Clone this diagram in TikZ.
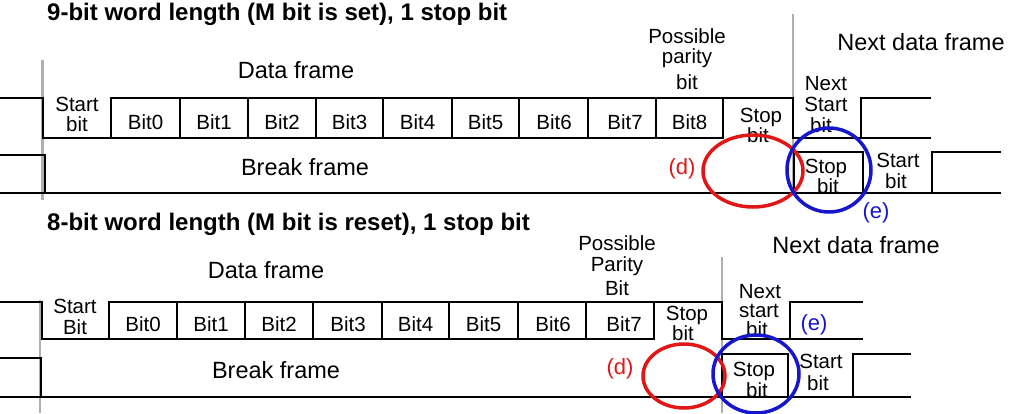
\documentclass[tikz,border=0pt]{standalone}
\usepackage{fontspec}
\setmainfont{Liberation Sans}
\definecolor{ringred}{RGB}{225,22,22}
\definecolor{ringblue}{RGB}{22,22,205}
\definecolor{guidegray}{RGB}{175,175,175}
\begin{document}
\begin{tikzpicture}[x=1pt,y=-1pt,
  wave/.style={line width=1.2pt, line join=miter, line cap=rect},
  guide/.style={line width=1.5pt, draw=guidegray},
  lbl/.style={anchor=base, inner sep=0pt, font=\fontsize{20.5}{20.5}\selectfont},
  big/.style={anchor=base, inner sep=0pt, font=\fontsize{23.5}{23.5}\selectfont},
  ttl/.style={anchor=base west, inner sep=0pt, font=\fontsize{24}{24}\selectfont\bfseries},
  rednote/.style={lbl, text=ringred, font=\fontsize{22}{22}\selectfont},
  bluenote/.style={lbl, text=ringblue, font=\fontsize{22}{22}\selectfont},
  redring/.style={draw=ringred, line width=3.5pt},
  bluering/.style={draw=ringblue, line width=3.5pt},
]
\useasboundingbox (0,0) rectangle (1013,413);

% ---------- top diagram ----------
\draw[guide, line width=3pt] (42,60) -- (42,200);
\draw[guide] (793,14) -- (793,193);
% data frame
\draw[wave] (0,98) -- (43,98) -- (43,138) -- (723,138) -- (723,98);
\draw[wave] (111,98) -- (793,98) -- (793,138) -- (930,138);
\draw[wave] (861,98) -- (930,98);
\foreach \x in {111,180,248,316,383,452,519,588,656,861}
  \draw[wave] (\x,98) -- (\x,138);
% break frame
\draw[wave] (0,155) -- (45,155) -- (45,193);
\draw[wave] (0,193) -- (1000,193);
\draw[wave] (794,193) -- (794,152) -- (863,152) -- (863,193);
\draw[wave] (932,193) -- (932,152) -- (1000,152);

\node[ttl] (t1) at (47,20) {9-bit word length (M bit is set), 1 stop bit};
\node[big] (df1) at (296,78) {Data frame};
\node[big] (bf1) at (305,175) {Break frame};
\node[big] (nd1) at (921,50) {Next data frame};
\node[lbl] (sa1) at (77,111) {Start};
\node[lbl] (sb1) at (77,131) {bit};
\foreach \c/\t [count=\i] in {145.5/Bit0,214/Bit1,282/Bit2,349.5/Bit3,417.5/Bit4,485.5/Bit5,554/Bit6,625/Bit7,689.5/Bit8}
  \node[lbl] (tb\i) at (\c,129) {\t};
\node[lbl] (pp1) at (687,43) {Possible};
\node[lbl] (pp2) at (687,63) {parity};
\node[lbl] (pp3) at (687,89) {bit};
\node[lbl] (st1) at (761,122) {Stop};
\node[lbl] (st2) at (758,142) {bit};
\node[lbl] (ns1) at (826,90) {Next};
\node[lbl] (ns2) at (826,111) {Start};
\node[lbl] (ns3) at (821,132) {bit};
\node[lbl] (bs1) at (826,173) {Stop};
\node[lbl] (bs2) at (828,193) {bit};
\node[lbl] (bt1) at (898,167) {Start};
\node[lbl] (bt2) at (896,188) {bit};
\node[rednote] (d1) at (682,174) {(d)};
\node[bluenote] (e1) at (876,218) {(e)};
\draw[redring] (753,171) ellipse [x radius=50, y radius=36];
\draw[bluering] (829,170) ellipse [x radius=42, y radius=42];

% ---------- bottom diagram ----------
\draw[guide] (40,300) -- (40,413);
\draw[guide] (722,257) -- (722,413);
% data frame
\draw[wave] (0,302) -- (42,302) -- (42,339) -- (654,339) -- (654,302);
\draw[wave] (109,302) -- (722,302) -- (722,339) -- (862,339);
\draw[wave] (790,302) -- (862,302);
\foreach \x in {109,177,245,313,382,449,518,586,790}
  \draw[wave] (\x,302) -- (\x,339);
% break frame
\draw[wave] (0,358) -- (41,358) -- (41,397);
\draw[wave] (0,397) -- (910,397);
\draw[wave] (722,397) -- (722,354) -- (788,354) -- (788,397);
\draw[wave] (853,397) -- (853,354) -- (910,354);

\node[ttl] (t2) at (47,230) {8-bit word length (M bit is reset), 1 stop bit};
\node[big] (df2) at (266,278) {Data frame};
\node[big] (bf2) at (276,378) {Break frame};
\node[big] (nd2) at (856,253) {Next data frame};
\node[lbl] (sa2) at (75,313) {Start};
\node[lbl] (sb2) at (75,334) {Bit};
\foreach \c/\t [count=\i] in {143/Bit0,211/Bit1,279/Bit2,348/Bit3,415.5/Bit4,483.5/Bit5,553/Bit6,624/Bit7}
  \node[lbl] (bb\i) at (\c,331) {\t};
\node[lbl] (pq1) at (617,250) {Possible};
\node[lbl] (pq2) at (617,271) {Parity};
\node[lbl] (pq3) at (617,295) {Bit};
\node[lbl] (su1) at (687,320) {Stop};
\node[lbl] (su2) at (683,340) {bit};
\node[lbl] (nt1) at (760,298) {Next};
\node[lbl] (nt2) at (759,317) {start};
\node[lbl] (nt3) at (757,336) {bit};
\node[lbl] (bu1) at (754,376) {Stop};
\node[lbl] (bu2) at (757,397) {bit};
\node[lbl] (bv1) at (821,368) {Start};
\node[lbl] (bv2) at (818,390) {bit};
\node[rednote] (d2) at (620,374) {(d)};
\node[bluenote] (e2) at (814,330) {(e)};
\draw[redring] (684,376) ellipse [x radius=41, y radius=32];
\draw[bluering] (756,374) ellipse [x radius=43, y radius=39];
\end{tikzpicture}
\end{document}
